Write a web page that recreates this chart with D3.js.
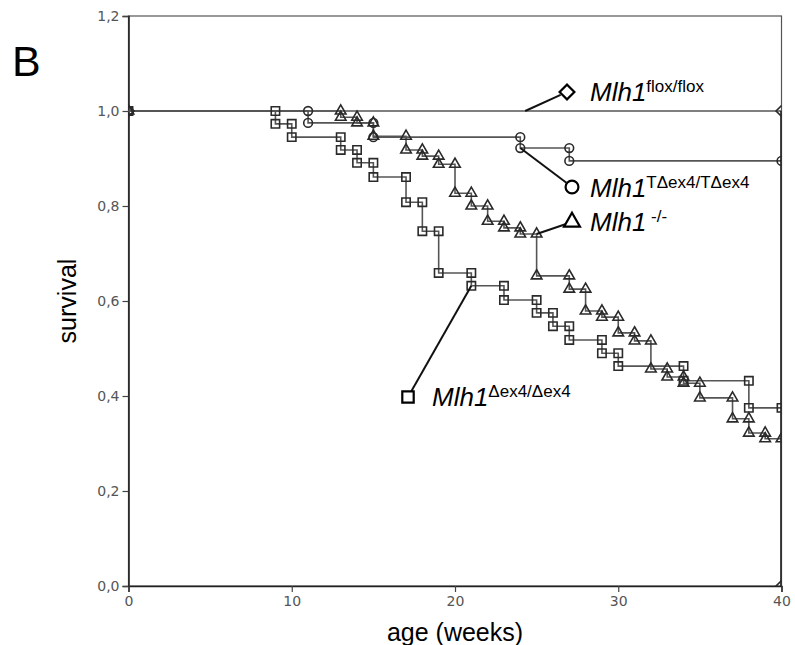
<!DOCTYPE html>
<html>
<head>
<meta charset="utf-8">
<script src="https://cdn.jsdelivr.net/npm/d3@7/dist/d3.min.js"></script>
<style>
  html, body { margin: 0; padding: 0; background: #fff; }
  svg { display: block; }
</style>
</head>
<body>
<svg id="chart" width="795" height="645"></svg>
<script>
// Kaplan–Meier survival by genotype: event weeks and survival after each drop
const xTicks = [0, 10, 20, 30, 40];
const yTicks = [0, 0.2, 0.4, 0.6, 0.8, 1.0, 1.2];

const floxWeeks = [40];
const floxSurv  = [0.0];

const tdWeeks = [11, 15, 24, 27];
const tdSurv  = [0.975, 0.945, 0.922, 0.895];

const koWeeks = [13, 14, 15, 17, 18, 19, 20, 21, 22, 23, 24, 25, 27, 28, 29, 30, 31, 32, 33, 34, 35, 37, 38, 39];
const koSurv  = [0.987, 0.975, 0.947, 0.918, 0.905, 0.888, 0.827, 0.800, 0.768, 0.754, 0.741, 0.653,
                 0.625, 0.579, 0.566, 0.533, 0.516, 0.457, 0.440, 0.427, 0.396, 0.352, 0.322, 0.310];

const dWeeks = [9, 10, 13, 14, 15, 17, 18, 19, 21, 23, 25, 26, 27, 29, 30, 34, 38];
const dSurv  = [0.973, 0.945, 0.918, 0.891, 0.861, 0.808, 0.747, 0.659, 0.632, 0.602, 0.575,
                0.547, 0.518, 0.490, 0.463, 0.432, 0.375];

const endWeek = 40;

const svg = d3.select("#chart");
const x = d3.scaleLinear().domain([0, 40]).range([128.5, 781.5]);
const y = d3.scaleLinear().domain([0, 1.2]).range([586, 16]);

const fmt = v => d3.format(".1f")(v).replace(".", ",");

// plot clip so end markers sit half inside the frame
svg.append("defs").append("clipPath").attr("id", "plotClip")
  .append("rect")
  .attr("x", x(0)).attr("y", y(1.2))
  .attr("width", x(40) - x(0)).attr("height", y(0) - y(1.2));

// step vertices: both corners of every drop
function steps(weeks, surv) {
  const pts = [[0, 1]];
  let prev = 1;
  weeks.forEach((w, i) => {
    pts.push([w, prev]);
    pts.push([w, surv[i]]);
    prev = surv[i];
  });
  if (weeks[weeks.length - 1] !== endWeek) pts.push([endWeek, prev]);
  return pts;
}

// square turned 45° for the diamond marker
const rhombus = d3.symbolSquare;

const series = [
  { key: "d",    pts: steps(dWeeks, dSurv),       shape: d3.symbolSquare,   size: 70, rot: 0 },
  { key: "ko",   pts: steps(koWeeks, koSurv),     shape: d3.symbolTriangle, size: 48, rot: 0 },
  { key: "td",   pts: steps(tdWeeks, tdSurv),     shape: d3.symbolCircle,   size: 60, rot: 0 },
  { key: "flox", pts: steps(floxWeeks, floxSurv), shape: rhombus,           size: 60, rot: 45 }
];

// frame and axes
const frame = svg.append("g");
frame.append("rect")
  .attr("x", x(0)).attr("y", y(1.2))
  .attr("width", x(40) - x(0)).attr("height", y(0) - y(1.2))
  .attr("fill", "none").attr("stroke", "#555").attr("stroke-width", 1.2);

const yAxis = d3.axisLeft(y).tickValues(yTicks).tickFormat(fmt).tickSize(6).tickPadding(3);
const gy = svg.append("g").attr("transform", `translate(${x(0)},0)`).call(yAxis);
gy.select(".domain").attr("stroke", "#222").attr("stroke-width", 1.6);
gy.selectAll(".tick line").attr("stroke", "#444").attr("stroke-width", 1.2);
gy.selectAll(".tick text").attr("fill", "#555").style("font", "14px 'DejaVu Sans', sans-serif");

const xAxis = d3.axisBottom(x).tickValues(xTicks).tickFormat(d3.format("d")).tickSize(6).tickPadding(4);
const gx = svg.append("g").attr("transform", `translate(0,${y(0)})`).call(xAxis);
gx.select(".domain").attr("stroke", "#222").attr("stroke-width", 1.6);
gx.selectAll(".tick line").attr("stroke", "#444").attr("stroke-width", 1.2);
gx.selectAll(".tick text").attr("fill", "#555").style("font", "14px 'DejaVu Sans', sans-serif");

// survival curves
const line = d3.line().x(d => x(d[0])).y(d => y(d[1]));
const plot = svg.append("g").attr("clip-path", "url(#plotClip)");

series.forEach(s => {
  plot.append("path")
    .attr("d", line(s.pts))
    .attr("fill", "none")
    .attr("stroke", "#555")
    .attr("stroke-width", 1.6);
});

// last drop to zero at the end of follow-up, drawn along the frame edge
plot.append("path")
  .attr("d", line(series[3].pts.slice(-2)))
  .attr("fill", "none")
  .attr("stroke", "#111")
  .attr("stroke-width", 2.4);

series.forEach(s => {
  plot.append("g").selectAll("path")
    .data(s.pts)
    .join("path")
    .attr("transform", d => `translate(${x(d[0])},${y(d[1])}) rotate(${s.rot})`)
    .attr("d", d3.symbol().type(s.shape).size(s.size))
    .attr("fill", "none")
    .attr("stroke", "#2a2a2a")
    .attr("stroke-width", 1.6);
});

// genotype labels with leader lines
const labels = [
  { shape: rhombus,           rot: 45, size: 110, mx: 567, my: 92,  anchor: [24.3, 1.0], tx: 590, ty: 101, sup: "flox/flox" },
  { shape: d3.symbolCircle,   rot: 0,  size: 130, mx: 572, my: 187, anchor: [24, 0.922], tx: 590, ty: 197, sup: "TΔex4/TΔex4" },
  { shape: d3.symbolTriangle, rot: 0,  size: 110, mx: 572, my: 222, anchor: [25, 0.741], tx: 590, ty: 231, sup: " -/-" },
  { shape: d3.symbolSquare,   rot: 0,  size: 130, mx: 408, my: 397, anchor: [21, 0.632], tx: 432, ty: 406, sup: "Δex4/Δex4" }
];

const lg = svg.append("g");
labels.forEach(l => {
  const ax = x(l.anchor[0]), ay = y(l.anchor[1]);
  const dx = l.mx - ax, dy = l.my - ay, len = Math.hypot(dx, dy);
  const r = 7;
  lg.append("line")
    .attr("x1", ax).attr("y1", ay)
    .attr("x2", l.mx - dx / len * r).attr("y2", l.my - dy / len * r)
    .attr("stroke", "#111").attr("stroke-width", 2);
  lg.append("path")
    .attr("transform", `translate(${l.mx},${l.my}) rotate(${l.rot})`)
    .attr("d", d3.symbol().type(l.shape).size(l.size))
    .attr("fill", "#fff").attr("stroke", "#000").attr("stroke-width", 2.2);
  const t = lg.append("text")
    .attr("x", l.tx).attr("y", l.ty)
    .style("font-family", "'Liberation Sans', Arial, sans-serif")
    .attr("fill", "#000");
  t.append("tspan").text("Mlh1").style("font-style", "italic").style("font-size", "26px");
  t.append("tspan").text(l.sup).attr("dy", -9).style("font-size", "17px");
});

// titles
svg.append("text")
  .attr("x", 12).attr("y", 76)
  .style("font", "43px 'Liberation Sans', Arial, sans-serif")
  .text("B");

svg.append("text")
  .attr("x", x(20)).attr("y", 641)
  .attr("text-anchor", "middle")
  .style("font", "25px 'Liberation Sans', Arial, sans-serif")
  .text("age (weeks)");

svg.append("text")
  .attr("transform", `translate(76,${y(0.6)}) rotate(-90)`)
  .attr("text-anchor", "middle")
  .style("font", "25px 'Liberation Sans', Arial, sans-serif")
  .text("survival");
</script>
</body>
</html>
